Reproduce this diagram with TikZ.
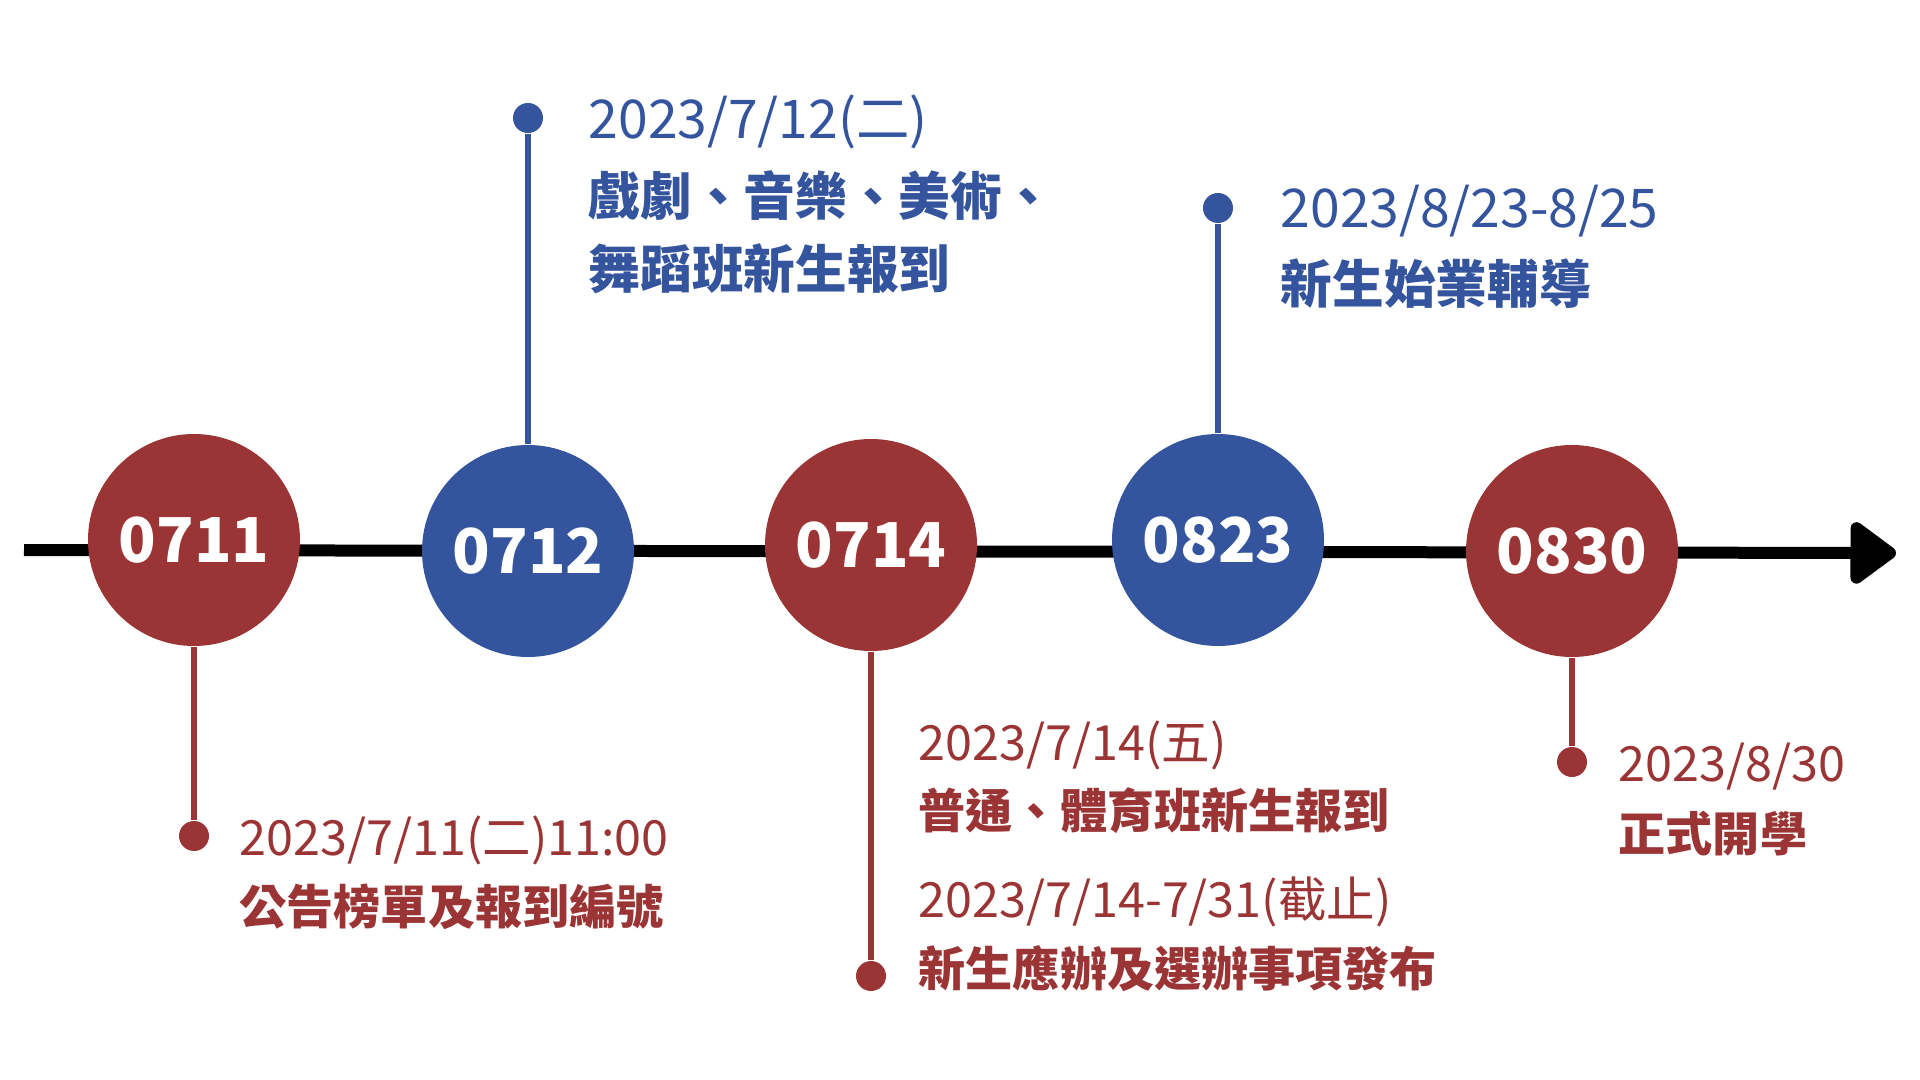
\documentclass[tikz,border=0pt]{standalone}
\usepackage{fontspec}
\setmainfont{Noto Sans CJK TC}
\usetikzlibrary{arrows.meta}
\definecolor{dayred}{HTML}{9B3434}
\definecolor{dayblue}{HTML}{34559E}

\begin{document}
\begin{tikzpicture}[x=1cm,y=1cm,
  redday/.style={circle,fill=dayred,minimum size=2.12cm,inner sep=0pt,text=white,font=\fontsize{17.6}{20}\selectfont\bfseries},
  blueday/.style={redday,fill=dayblue},
  reddot/.style={circle,fill=dayred,minimum size=0.3cm,inner sep=0pt},
  bluedot/.style={reddot,fill=dayblue},
  redstem/.style={draw=dayred,line width=0.06cm},
  bluestem/.style={draw=dayblue,line width=0.06cm},
  reddate/.style={anchor=west,inner sep=0pt,text=dayred,font=\fontsize{13.8}{16}\selectfont},
  redevent/.style={anchor=west,inner sep=0pt,text=dayred,font=\fontsize{13.4}{16}\selectfont\bfseries},
  bluedate/.style={anchor=west,inner sep=0pt,text=dayblue,font=\fontsize{15.2}{18}\selectfont},
  blueevent/.style={anchor=west,inner sep=0pt,text=dayblue,font=\fontsize{14.7}{18}\selectfont\bfseries}]
\fill[white] (0,0) rectangle (19.2,-10.8);
\coordinate (tl) at (0.24,-5.50);
\coordinate (tr) at (18.96,-5.53);
\draw[line width=0.12cm,-{Triangle[length=0.5cm,width=0.7cm,round]}] (tl) -- (tr);
\node[redday] (d0711) at (1.94,-5.40) {0711};
\node[blueday] (d0712) at (5.28,-5.51) {0712};
\node[redday] (d0714) at (8.71,-5.45) {0714};
\node[blueday] (d0823) at (12.18,-5.40) {0823};
\node[redday] (d0830) at (15.72,-5.51) {0830};
\node[reddot] (p0711) at (1.94,-8.36) {};
\node[bluedot] (p0712) at (5.28,-1.18) {};
\node[reddot] (p0714) at (8.71,-9.76) {};
\node[bluedot] (p0823) at (12.18,-2.08) {};
\node[reddot] (p0830) at (15.72,-7.62) {};
\draw[redstem] (d0711) -- (p0711);
\draw[bluestem] (d0712) -- (p0712);
\draw[redstem] (d0714) -- (p0714);
\draw[bluestem] (d0823) -- (p0823);
\draw[redstem] (d0830) -- (p0830);
\node[reddate] (t0711a) at (2.39,-8.40) {2023/7/11(二)11:00};
\node[redevent] (t0711b) at (2.39,-9.07) {公告榜單及報到編號};
\node[bluedate] (t0712a) at (5.88,-1.22) {2023/7/12(二)};
\node[blueevent] (t0712b) at (5.88,-1.96) {戲劇、音樂、美術、};
\node[blueevent] (t0712c) at (5.88,-2.69) {舞蹈班新生報到};
\node[reddate] (t0714a) at (9.18,-7.45) {2023/7/14(五)};
\node[redevent] (t0714b) at (9.18,-8.11) {普通、體育班新生報到};
\node[reddate] (t0714c) at (9.18,-9.02) {2023/7/14-7/31(截止)};
\node[redevent] (t0714d) at (9.18,-9.69) {新生應辦及選辦事項發布};
\node[bluedate] (t0823a) at (12.80,-2.11) {2023/8/23-8/25};
\node[blueevent] (t0823b) at (12.80,-2.84) {新生始業輔導};
\node[reddate] (t0830a) at (16.18,-7.67) {2023/8/30};
\node[redevent] (t0830b) at (16.18,-8.34) {正式開學};
\end{tikzpicture}
\end{document}
